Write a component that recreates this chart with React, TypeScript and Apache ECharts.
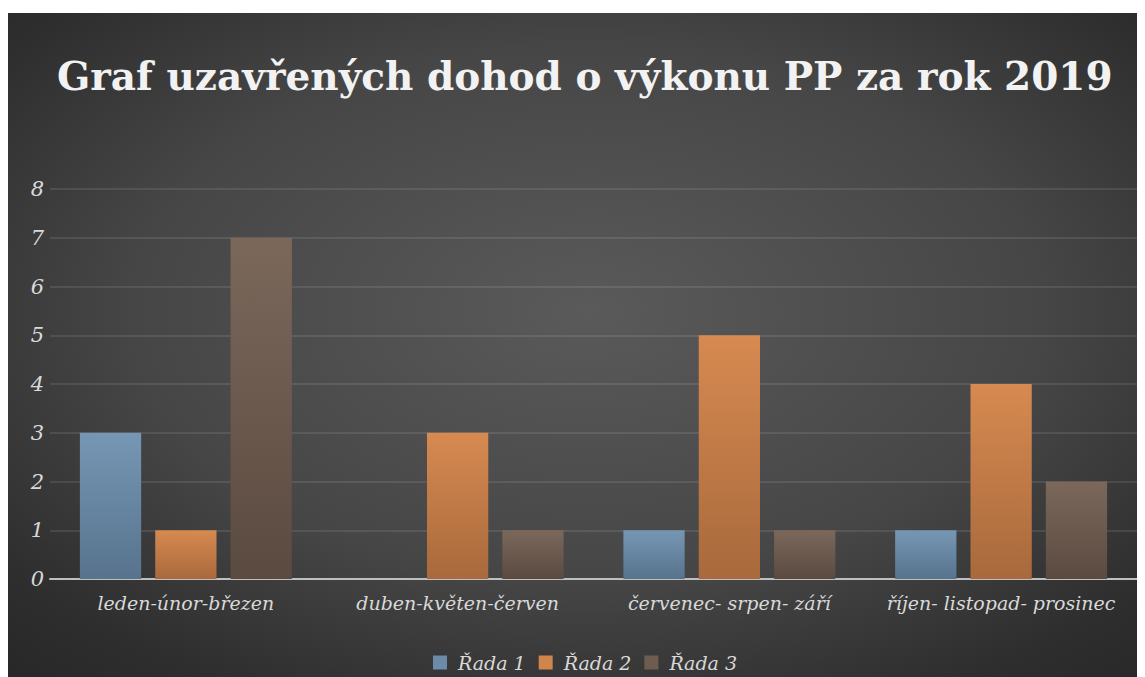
import React, { useEffect, useRef } from "react";
import * as echarts from "echarts";

const categories = [
  "leden-únor-březen",
  "duben-květen-červen",
  "červenec- srpen- září",
  "říjen- listopad- prosinec",
];
const rada1 = [3, 0, 1, 1];
const rada2 = [1, 3, 5, 4];
const rada3 = [7, 1, 1, 2];
const seriesNames = ["Řada 1", "Řada 2", "Řada 3"];
const yTicks = [0, 1, 2, 3, 4, 5, 6, 7, 8];

const FONT = "'DejaVu Serif', serif";

function grad(top: string, bottom: string) {
  return new echarts.graphic.LinearGradient(0, 0, 0, 1, [
    { offset: 0, color: top },
    { offset: 1, color: bottom },
  ]);
}

export default function App() {
  const ref = useRef<HTMLDivElement>(null);
  useEffect(() => {
    if (!ref.current) return;
    const chart = echarts.init(ref.current, null, { renderer: "svg" });
    const colors = [
      grad("#7697b4", "#57738d"),
      grad("#d78a51", "#a8693c"),
      grad("#7b685b", "#5b4a40"),
    ];
    const legendColors = ["#6c8ba8", "#d0854d", "#6e5c50"];
    const data = [rada1, rada2, rada3];
    chart.setOption({
      animation: false,
      graphic: [
        {
          type: "rect",
          z: -100,
          silent: true,
          shape: { x: 0, y: 0, width: 1137, height: 664 },
          style: {
            fill: new echarts.graphic.RadialGradient(0.51, 0.45, 0.8, [
              { offset: 0, color: "#5a5a5a" },
              { offset: 0.5, color: "#464646" },
              { offset: 0.8, color: "#2e2e2e" },
              { offset: 1, color: "#252525" },
            ]),
          },
        },
      ],
      title: {
        text: "Graf uzavřených dohod o výkonu PP za rok 2019",
        left: 49,
        top: 43,
        padding: 0,
        textStyle: {
          fontFamily: FONT,
          fontWeight: "bold",
          fontSize: 39,
          color: "#f2f2f2",
        },
      },
      legend: {
        bottom: 0,
        left: 420,
        itemWidth: 14,
        itemHeight: 14,
        itemGap: 13,
        icon: "rect",
        data: seriesNames.map((n, i) => ({
          name: n,
          itemStyle: { color: legendColors[i] },
        })),
        textStyle: {
          fontFamily: FONT,
          fontStyle: "italic",
          fontSize: 19,
          color: "#d9d9d9",
          padding: [0, 0, 0, 6],
        },
      },
      grid: { left: 42, right: 8, top: 176, bottom: 98, containLabel: false },
      xAxis: {
        type: "category",
        data: categories,
        axisTick: { show: false },
        axisLine: { lineStyle: { color: "#bfbfbf", width: 2 } },
        axisLabel: {
          margin: 14,
          fontFamily: FONT,
          fontStyle: "italic",
          fontSize: 19,
          color: "#d9d9d9",
          interval: 0,
        },
      },
      yAxis: {
        type: "value",
        min: yTicks[0],
        max: yTicks[yTicks.length - 1],
        interval: 1,
        axisLine: { show: false },
        axisTick: { show: false },
        splitLine: { lineStyle: { color: "rgba(255,255,255,0.13)", width: 1.5 } },
        axisLabel: {
          margin: 6,
          fontFamily: FONT,
          fontStyle: "italic",
          fontSize: 21,
          color: "#d9d9d9",
        },
      },
      series: seriesNames.map((n, i) => ({
        name: n,
        type: "bar",
        data: data[i],
        barGap: "23%",
        barCategoryGap: "22%",
        itemStyle: { color: colors[i] },
      })),
    });
    return () => chart.dispose();
  }, []);
  return (
    <div
      ref={ref}
      style={{ width: 1137, height: 664, marginTop: 5 }}
    />
  );
}
